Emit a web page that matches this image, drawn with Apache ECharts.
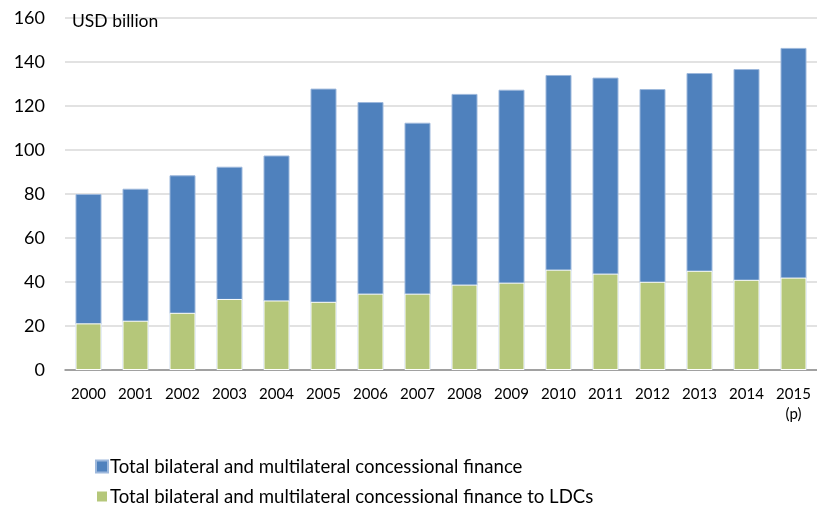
<!DOCTYPE html>
<html><head><meta charset="utf-8">
<script src="https://cdn.jsdelivr.net/npm/echarts@6/dist/echarts.min.js"></script>
<style>html,body{margin:0;padding:0;background:#fff}#c{width:817px;height:517px}</style>
</head><body><div id="c"></div>
<script>
const years = ['2000','2001','2002','2003','2004','2005','2006','2007','2008','2009','2010','2011','2012','2013','2014','2015\n(p)'];
const totalFinance = [80.0,82.4,88.5,92.4,97.5,127.9,121.8,112.4,125.5,127.4,134.1,132.9,127.7,135.0,136.8,146.4];
const ldcFinance = [21.2,22.4,26.0,32.3,31.6,31.0,34.7,34.7,38.8,39.7,45.6,43.8,40.1,45.1,41.0,42.0];
const seriesNames = ['Total bilateral and multilateral concessional finance','Total bilateral and multilateral concessional finance to LDCs'];
const yTicks = {min:0,max:160,interval:20};
const unitLabel = 'USD billion';

const font = 'Lato, "Open Sans", sans-serif';
const chart = echarts.init(document.getElementById('c'));
chart.setOption({
  animation:false,
  textStyle:{fontFamily:font},
  grid:{left:65,right:-6,top:18,bottom:147,containLabel:false},
  title:{text:unitLabel,left:67,top:7,textStyle:{fontFamily:font,fontSize:17.5,fontWeight:'normal',color:'#000'}},
  legend:{orient:'vertical',left:90,top:452,itemWidth:12,itemHeight:12,itemGap:11,icon:'rect',
    textStyle:{fontFamily:font,fontSize:18.6,color:'#000',padding:[0,0,0,-3]},data:seriesNames},
  xAxis:{type:'category',data:years,
    axisLine:{lineStyle:{color:'#8c8c8c',width:1.5}},axisTick:{show:false},
    axisLabel:{color:'#000',fontSize:15,margin:14,lineHeight:20,fontFamily:font}},
  yAxis:{type:'value',min:yTicks.min,max:yTicks.max,interval:yTicks.interval,
    axisLine:{show:false},axisTick:{show:false},
    splitLine:{lineStyle:{color:'#d9d9d9',width:1.5}},
    axisLabel:{color:'#000',fontSize:18,margin:20,fontFamily:font}},
  series:[
    {name:seriesNames[0],type:'bar',data:totalFinance,barWidth:26,barGap:'-100%',
     itemStyle:{color:'#4F81BD',borderColor:'#9db8dc',borderWidth:1}},
    {name:seriesNames[1],type:'bar',data:ldcFinance,barWidth:26,barGap:'-100%',
     itemStyle:{color:'#B5C77A',borderColor:'#ffffff',borderWidth:1}}
  ]
});
</script></body></html>
